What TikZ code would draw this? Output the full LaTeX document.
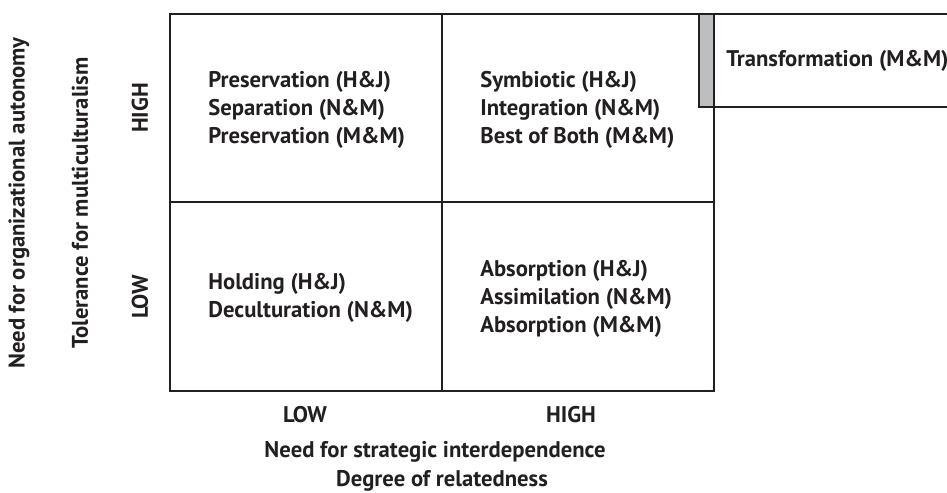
\documentclass[tikz,border=0pt]{standalone}
\usepackage{fontspec}
\setmainfont{PT Sans}
\usepackage{tikz}
\usetikzlibrary{arrows}
\usetikzlibrary{backgrounds}
\definecolor{ink}{HTML}{231F20}
\definecolor{bar}{HTML}{BCBEC0}

\begin{document}
\begin{tikzpicture}[
    cell/.style={anchor=west,align=left,inner sep=0pt,text=ink,font=\bfseries\fontsize{12.9}{15.9}\selectfont},
    axis/.style={inner sep=0pt,text=ink,font=\bfseries\fontsize{12.9}{15.9}\selectfont},
    frame/.style={line width=1.1pt,color=ink}]
  \useasboundingbox (0,0) rectangle (18.94,9.84);
  \fill[color=bar] (13.98,7.70) rectangle (14.28,9.56);
  \draw[frame] (3.40,2.02) rectangle (14.28,9.56);
  \draw[frame] (8.84,2.02)--(8.84,9.56);
  \draw[frame] (3.40,5.80)--(14.28,5.80);
  \draw[frame] (14.28,9.56)--(18.94,9.56);
  \draw[frame] (18.94,7.70)--(13.98,7.70)--(13.98,9.56);

  \draw (4.16,7.64) node[cell](q_hl){Preservation (H\&J)\\Separation (N\&M)\\Preservation (M\&M)};
  \draw (9.60,7.64) node[cell](q_hh){Symbiotic (H\&J)\\Integration (N\&M)\\Best of Both (M\&M)};
  \draw (4.16,3.88) node[cell](q_ll){Holding (H\&J)\\Deculturation (N\&M)};
  \draw (9.60,3.86) node[cell](q_lh){Absorption (H\&J)\\Assimilation (N\&M)\\Absorption (M\&M)};
  \draw (14.52,8.62) node[cell](transf){Transformation (M\&M)};

  \draw (6.10,1.54) node[axis](x_low){LOW};
  \draw (11.42,1.54) node[axis](x_high){HIGH};
  \draw (8.70,0.80) node[axis](x_text1){Need for strategic interdependence};
  \draw (8.84,0.22) node[axis](x_text2){Degree of relatedness};

  \draw (2.80,7.68) node[axis,rotate=90](y_high){HIGH};
  \draw (2.80,3.90) node[axis,rotate=90](y_low){LOW};
  \draw (1.60,5.78) node[axis,rotate=90](y_text2){Tolerance for multiculturalism};
  \draw (0.38,5.78) node[axis,rotate=90](y_text1){Need for organizational autonomy};
\end{tikzpicture}
\end{document}
